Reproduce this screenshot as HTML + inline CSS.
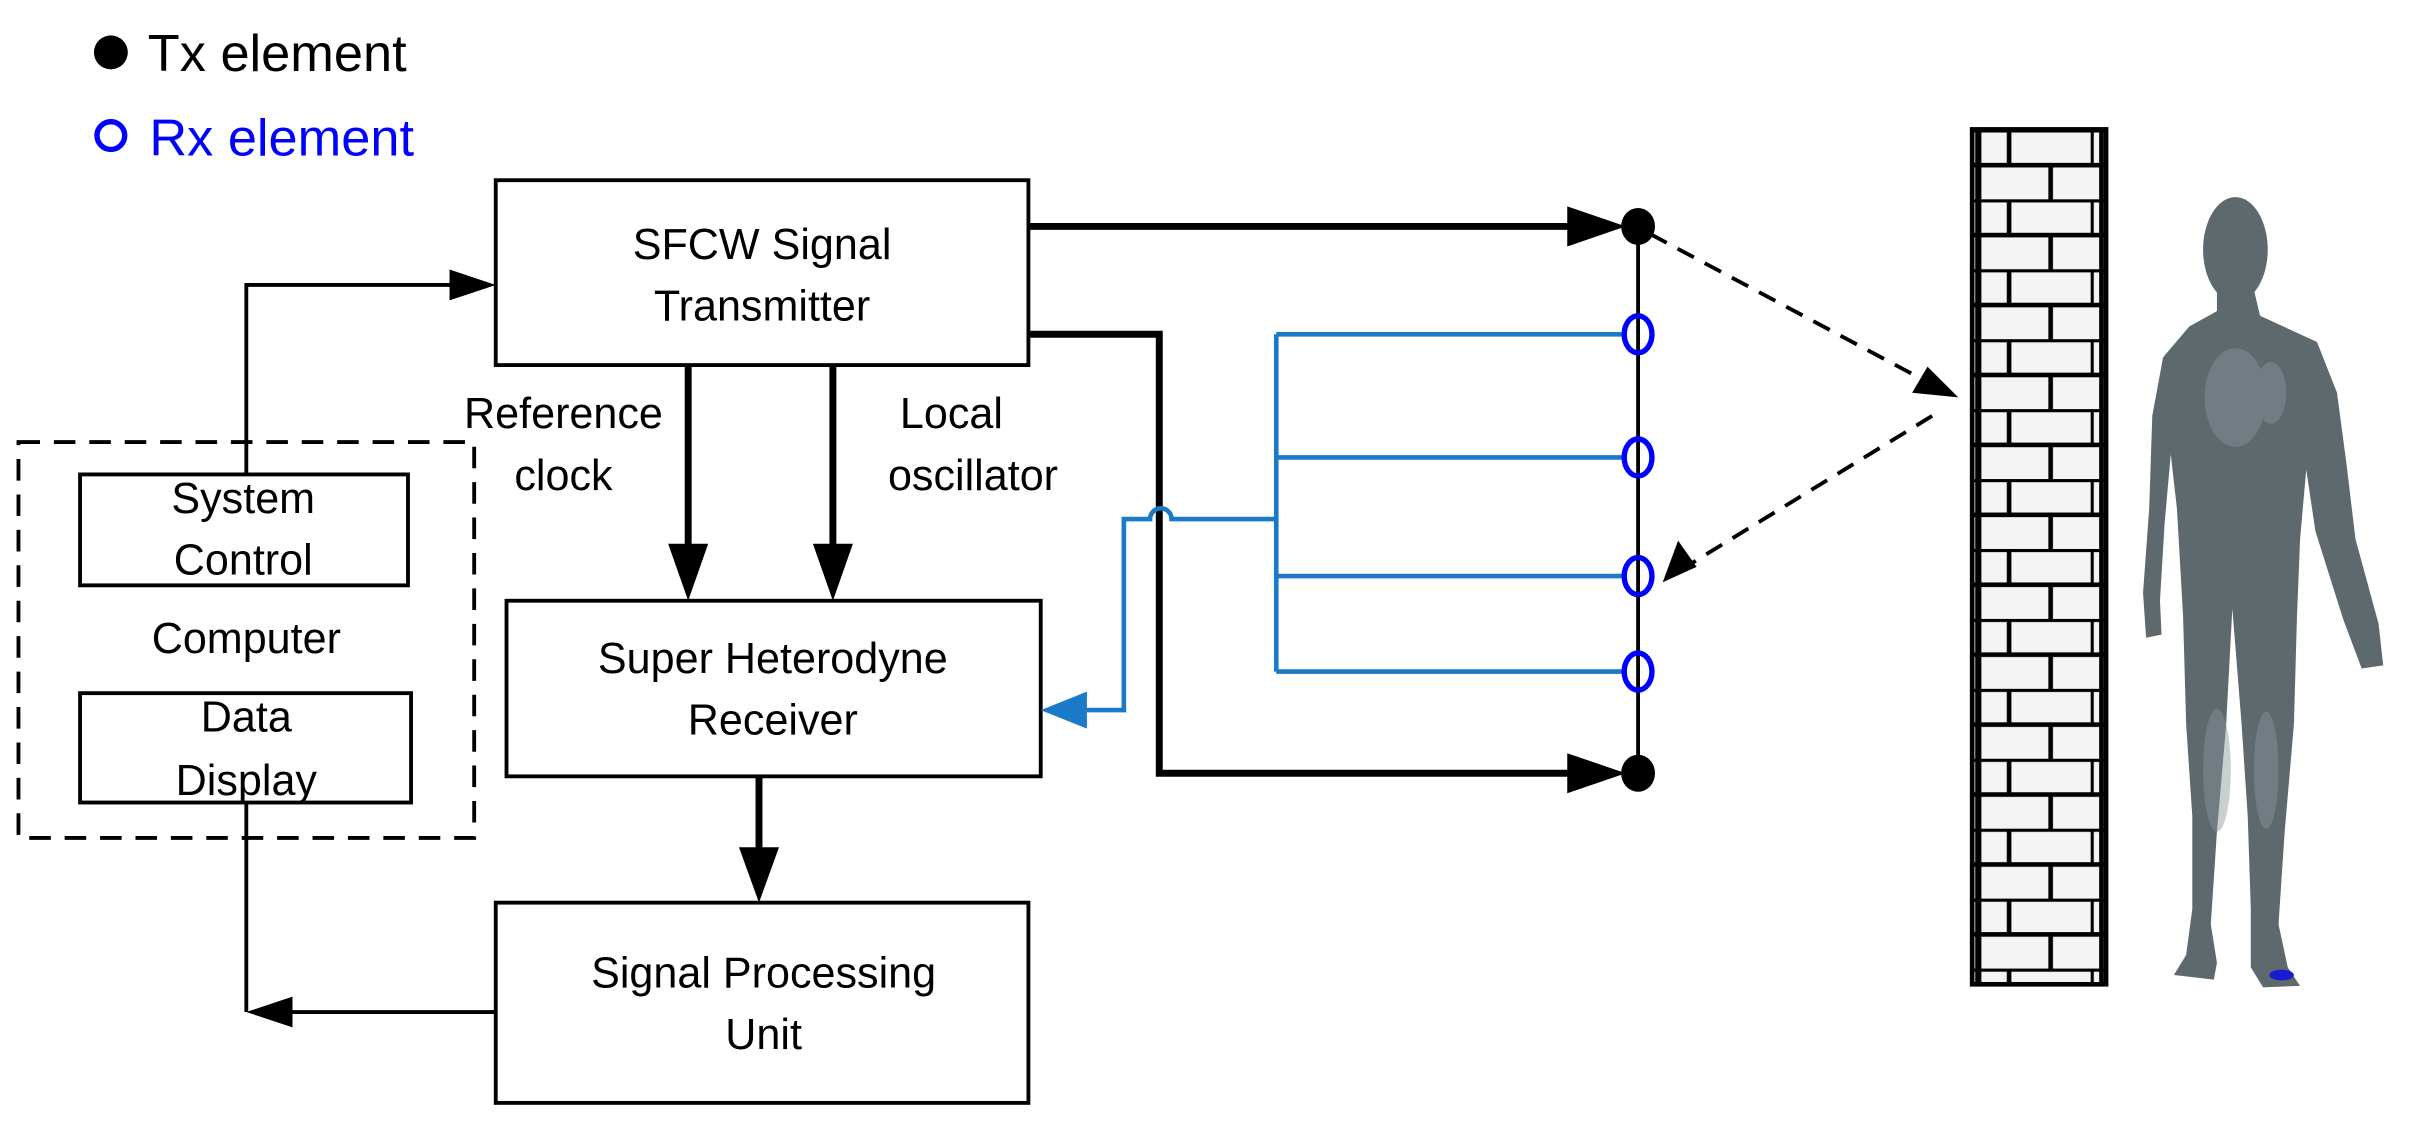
<!DOCTYPE html>
<html><head><meta charset="utf-8"><style>
html,body{margin:0;padding:0;background:#fff;}
svg{display:block;}
text{font-family:"Liberation Sans",Arial,sans-serif;}
</style></head><body>
<svg width="2414" height="1126" viewBox="0 0 1568 731" preserveAspectRatio="none" xmlns="http://www.w3.org/2000/svg">
<defs>
<pattern id="brick" x="1281" y="84" width="87" height="45.4" patternUnits="userSpaceOnUse">
<rect width="87" height="45.4" fill="#f4f4f4"/>
<line x1="0" y1="0.5" x2="87" y2="0.5" stroke="#000" stroke-width="3"/>
<line x1="0" y1="23.2" x2="87" y2="23.2" stroke="#000" stroke-width="3"/>
<line x1="24" y1="0" x2="24" y2="23" stroke="#000" stroke-width="3"/>
<line x1="78" y1="0" x2="78" y2="23" stroke="#000" stroke-width="2"/>
<line x1="51" y1="23" x2="51" y2="45.4" stroke="#000" stroke-width="3"/>
</pattern>
</defs>
<rect width="1568" height="731" fill="#fff"/>

<!-- legend -->
<circle cx="72" cy="34" r="11" fill="#000"/>
<text x="96" y="46" font-size="34" fill="#000">Tx element</text>
<circle cx="72" cy="88" r="9" fill="none" stroke="#0000ff" stroke-width="3.5"/>
<text x="97" y="101" font-size="34" fill="#0000ff">Rx element</text>

<g stroke="#000" fill="none" stroke-width="2.5">
<rect x="322" y="117" width="346" height="120"/>
<rect x="329" y="390" width="347" height="114"/>
<rect x="322" y="586" width="346" height="130"/>
<rect x="52" y="308" width="213" height="72"/>
<rect x="52" y="450" width="215" height="71"/>
<rect x="12" y="287" width="296" height="257" stroke-dasharray="14 9"/>
<path d="M160 308 V185 H300"/>
<path d="M160 521 V657"/>
<path d="M322 657 H182"/>
</g>
<g fill="#000">
<polygon points="322,185 292,175 292,195"/>
<polygon points="160,657 190,647 190,667"/>
</g>

<!-- thick arrows -->
<g stroke="#000" fill="none" stroke-width="4.5">
<path d="M447 237 V360"/>
<path d="M541 237 V360"/>
<path d="M493 504 V556"/>
<path d="M668 147 H1030"/>
<path d="M668 217 H753 V502 H1030"/>
</g>
<g fill="#000">
<polygon points="447,390 434,353 460,353"/>
<polygon points="541,390 528,353 554,353"/>
<polygon points="493,586 480,550 506,550"/>
<polygon points="1056,147 1018,134 1018,160"/>
<polygon points="1056,502 1018,489 1018,515"/>
</g>

<!-- array -->
<line x1="1064" y1="147" x2="1064" y2="502" stroke="#000" stroke-width="2.5"/>
<ellipse cx="1064" cy="147" rx="11" ry="12" fill="#000"/>
<ellipse cx="1064" cy="502" rx="11" ry="12" fill="#000"/>

<!-- blue -->
<g stroke="#1a7ac8" stroke-width="3" fill="none">
<path d="M829 217 V436"/>
<path d="M829 217 H1055"/>
<path d="M829 297 H1055"/>
<path d="M829 374 H1055"/>
<path d="M829 436 H1055"/>
<path d="M829 337 H761 A7 7 0 0 0 747 337 H730 V461 H704"/>
</g>
<polygon points="676,461 706,449 706,473" fill="#1a7ac8"/>
<g stroke="#0000ff" stroke-width="3.5" fill="none">
<ellipse cx="1064" cy="217" rx="9" ry="12"/>
<ellipse cx="1064" cy="297" rx="9" ry="12"/>
<ellipse cx="1064" cy="374" rx="9" ry="12"/>
<ellipse cx="1064" cy="436" rx="9" ry="12"/>
</g>

<!-- dashed propagation -->
<g stroke="#000" stroke-width="2.5" fill="none" stroke-dasharray="12 8">
<path d="M1072 152 L1250 247"/>
<path d="M1255 270 L1095 368"/>
</g>
<g fill="#000">
<polygon points="1272,258 1242,255 1252,238"/>
<polygon points="1080,378 1090,351 1102,368"/>
</g>

<!-- wall -->
<rect x="1281" y="84" width="87" height="555" fill="url(#brick)"/>
<rect x="1281" y="84" width="87" height="555" fill="none" stroke="#000" stroke-width="3"/>
<line x1="1285" y1="84" x2="1285" y2="639" stroke="#000" stroke-width="4"/>
<line x1="1365" y1="84" x2="1365" y2="639" stroke="#000" stroke-width="3"/>

<!-- human -->
<g fill="#5e696e">
<ellipse cx="1452" cy="162" rx="21" ry="34"/>
<path d="M1440 188 L1464 188 L1468 205 L1505 222 L1518 255 L1524 300 L1530 350 L1545 405 L1548 432 L1534 434 L1522 402 L1504 345 L1498 305 L1494 350 L1492 400 L1490 470 L1484 540 L1480 600 L1486 628 L1494 640 L1470 641 L1462 628 L1462 590 L1460 530 L1456 470 L1450 395 L1446 470 L1440 540 L1436 600 L1440 625 L1438 636 L1412 633 L1420 620 L1424 590 L1424 530 L1420 470 L1418 400 L1414 330 L1410 295 L1406 340 L1403 390 L1404 412 L1394 414 L1392 385 L1396 330 L1398 270 L1405 232 L1422 212 L1440 202 Z"/>
</g>
<g fill="#8a969b" opacity="0.45">
<ellipse cx="1452" cy="258" rx="20" ry="32"/>
<ellipse cx="1475" cy="255" rx="10" ry="20"/>
<ellipse cx="1440" cy="500" rx="9" ry="40"/>
<ellipse cx="1472" cy="500" rx="8" ry="38"/>
</g>
<ellipse cx="1482" cy="633" rx="8" ry="3.5" fill="#1a1ad0"/>

<!-- labels -->
<g font-size="28" fill="#000" text-anchor="middle">
<text x="495" y="168">SFCW Signal</text>
<text x="495" y="208">Transmitter</text>
<text x="502" y="437">Super Heterodyne</text>
<text x="502" y="477">Receiver</text>
<text x="496" y="641">Signal Processing</text>
<text x="496" y="681">Unit</text>
<text x="366" y="278">Reference</text>
<text x="366" y="318">clock</text>
<text x="618" y="278">Local</text>
<text x="632" y="318">oscillator</text>
<text x="158" y="333">System</text>
<text x="158" y="373">Control</text>
<text x="160" y="424">Computer</text>
<text x="160" y="475">Data</text>
<text x="160" y="516">Display</text>
</g>
</svg>
</body></html>
